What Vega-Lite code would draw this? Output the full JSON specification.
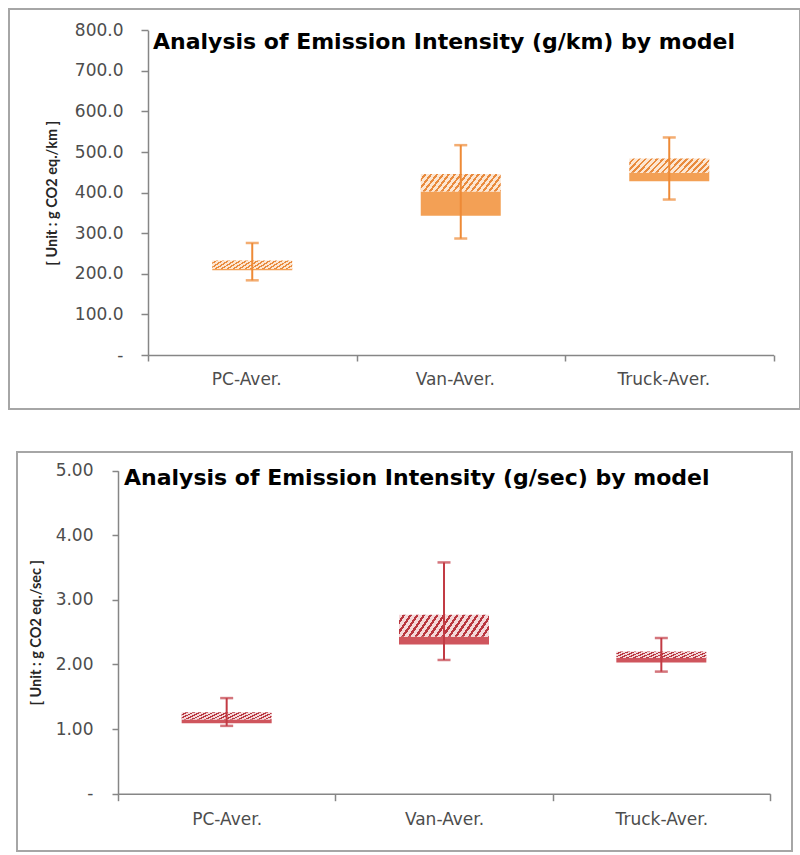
{
  "$schema": "https://vega.github.io/schema/vega-lite/v6.json",
  "background": "white",
  "padding": {"left": 8, "top": 8, "right": 0, "bottom": 0},
  "spacing": 41,
  "center": true,
  "config": {
    "view": {"stroke": "#A6A6A6", "strokeWidth": 2},
    "font": "DejaVu Sans",
    "axis": {"grid": false, "domainColor": "#868686", "tickColor": "#868686", "domainWidth": 1.5, "tickWidth": 1.5, "labelColor": "#4D4D4D", "titleColor": "#262626"}
  },
  "datasets": {
    "km": [
      {"model": "PC-Aver.", "min": 184, "q1": 209, "med": 212, "q3": 233, "max": 276},
      {"model": "Van-Aver.", "min": 287, "q1": 343, "med": 403, "q3": 446, "max": 517},
      {"model": "Truck-Aver.", "min": 383, "q1": 428, "med": 449, "q3": 484, "max": 536}
    ],
    "sec": [
      {"model": "PC-Aver.", "min": 1.05, "q1": 1.09, "med": 1.15, "q3": 1.26, "max": 1.48},
      {"model": "Van-Aver.", "min": 2.07, "q1": 2.31, "med": 2.43, "q3": 2.77, "max": 3.58},
      {"model": "Truck-Aver.", "min": 1.89, "q1": 2.03, "med": 2.10, "q3": 2.20, "max": 2.41}
    ]
  },
  "vconcat": [
    {
      "width": 791,
      "height": 400,
      "data": {"name": "km"},
      "title": {"text": "Analysis of Emission Intensity (g/km) by model", "anchor": "start", "frame": "group", "baseline": "top", "offset": 0, "dx": 144, "dy": 45, "fontSize": 22, "font": "DejaVu Sans", "fontWeight": "bold", "color": "#000000"},
      "encoding": {
        "x": {"field": "model", "type": "nominal", "sort": null,
          "scale": {"range": [139, 764.5], "paddingInner": 0, "paddingOuter": 0},
          "axis": {"title": null, "labelAngle": 0, "offset": -54, "tickBand": "extent", "tickSize": 6, "labelPadding": 10, "labelFontSize": 17, "labelOffset": -6}}
      },
      "layer": [
        {
          "mark": {"type": "bar", "width": 80, "color": "#F3A055"},
          "encoding": {
            "y": {"field": "q1", "type": "quantitative", "title": "[ Unit : g CO2 eq./km ]",
              "scale": {"domain": [0, 800], "range": [346, 21.3], "nice": false, "zero": true},
              "axis": {"values": [0, 100, 200, 300, 400, 500, 600, 700, 800], "labelExpr": "datum.value == 0 ? '-' : format(datum.value, '.1f')", "offset": -139, "tickSize": 7, "labelPadding": 18, "labelFontSize": 17, "titleFont": "Lato", "titleFontSize": 14.5, "titleFontWeight": "bold", "titlePadding": 15}},
            "y2": {"field": "med"}
          }
        },
        {
          "mark": {"type": "bar", "width": 80, "color": {"gradient": "linear", "x1": 0, "y1": 0, "x2": 1.2, "y2": 0.2, "stops": [
            {"offset": 0, "color": "#FCE6D2"}, {"offset": 0.035, "color": "#FCE6D2"}, {"offset": 0.035, "color": "#E98B3E"}, {"offset": 0.06, "color": "#E98B3E"},
            {"offset": 0.06, "color": "#FCE6D2"}, {"offset": 0.095, "color": "#FCE6D2"}, {"offset": 0.095, "color": "#E98B3E"}, {"offset": 0.12, "color": "#E98B3E"},
            {"offset": 0.12, "color": "#FCE6D2"}, {"offset": 0.155, "color": "#FCE6D2"}, {"offset": 0.155, "color": "#E98B3E"}, {"offset": 0.18, "color": "#E98B3E"},
            {"offset": 0.18, "color": "#FCE6D2"}, {"offset": 0.215, "color": "#FCE6D2"}, {"offset": 0.215, "color": "#E98B3E"}, {"offset": 0.24, "color": "#E98B3E"},
            {"offset": 0.24, "color": "#FCE6D2"}, {"offset": 0.275, "color": "#FCE6D2"}, {"offset": 0.275, "color": "#E98B3E"}, {"offset": 0.30, "color": "#E98B3E"},
            {"offset": 0.30, "color": "#FCE6D2"}, {"offset": 0.335, "color": "#FCE6D2"}, {"offset": 0.335, "color": "#E98B3E"}, {"offset": 0.36, "color": "#E98B3E"},
            {"offset": 0.36, "color": "#FCE6D2"}, {"offset": 0.395, "color": "#FCE6D2"}, {"offset": 0.395, "color": "#E98B3E"}, {"offset": 0.42, "color": "#E98B3E"},
            {"offset": 0.42, "color": "#FCE6D2"}, {"offset": 0.455, "color": "#FCE6D2"}, {"offset": 0.455, "color": "#E98B3E"}, {"offset": 0.48, "color": "#E98B3E"},
            {"offset": 0.48, "color": "#FCE6D2"}, {"offset": 0.515, "color": "#FCE6D2"}, {"offset": 0.515, "color": "#E98B3E"}, {"offset": 0.54, "color": "#E98B3E"},
            {"offset": 0.54, "color": "#FCE6D2"}, {"offset": 0.575, "color": "#FCE6D2"}, {"offset": 0.575, "color": "#E98B3E"}, {"offset": 0.60, "color": "#E98B3E"},
            {"offset": 0.60, "color": "#FCE6D2"}, {"offset": 0.635, "color": "#FCE6D2"}, {"offset": 0.635, "color": "#E98B3E"}, {"offset": 0.66, "color": "#E98B3E"},
            {"offset": 0.66, "color": "#FCE6D2"}, {"offset": 0.695, "color": "#FCE6D2"}, {"offset": 0.695, "color": "#E98B3E"}, {"offset": 0.72, "color": "#E98B3E"},
            {"offset": 0.72, "color": "#FCE6D2"}, {"offset": 0.755, "color": "#FCE6D2"}, {"offset": 0.755, "color": "#E98B3E"}, {"offset": 0.78, "color": "#E98B3E"},
            {"offset": 0.78, "color": "#FCE6D2"}, {"offset": 0.815, "color": "#FCE6D2"}, {"offset": 0.815, "color": "#E98B3E"}, {"offset": 0.84, "color": "#E98B3E"},
            {"offset": 0.84, "color": "#FCE6D2"}, {"offset": 0.875, "color": "#FCE6D2"}, {"offset": 0.875, "color": "#E98B3E"}, {"offset": 0.90, "color": "#E98B3E"},
            {"offset": 0.90, "color": "#FCE6D2"}, {"offset": 0.935, "color": "#FCE6D2"}, {"offset": 0.935, "color": "#E98B3E"}, {"offset": 0.96, "color": "#E98B3E"},
            {"offset": 0.96, "color": "#FCE6D2"}, {"offset": 1, "color": "#FCE6D2"}
          ]}},
          "encoding": {
            "y": {"field": "med", "type": "quantitative", "title": "[ Unit : g CO2 eq./km ]"},
            "y2": {"field": "q3"}
          }
        },
        {
          "mark": {"type": "rule", "color": "#EE8A36", "strokeWidth": 2},
          "encoding": {
            "y": {"field": "min", "type": "quantitative", "title": "[ Unit : g CO2 eq./km ]"},
            "y2": {"field": "max"}
          }
        },
        {
          "mark": {"type": "tick", "color": "#EE8A36", "size": 13, "thickness": 2.5},
          "encoding": {"y": {"field": "min", "type": "quantitative", "title": "[ Unit : g CO2 eq./km ]"}}
        },
        {
          "mark": {"type": "tick", "color": "#EE8A36", "size": 13, "thickness": 2.5},
          "encoding": {"y": {"field": "max", "type": "quantitative", "title": "[ Unit : g CO2 eq./km ]"}}
        }
      ]
    },
    {
      "width": 775,
      "height": 399,
      "data": {"name": "sec"},
      "title": {"text": "Analysis of Emission Intensity (g/sec) by model", "anchor": "start", "frame": "group", "baseline": "top", "offset": 0, "dx": 107, "dy": 38, "fontSize": 22, "font": "DejaVu Sans", "fontWeight": "bold", "color": "#000000"},
      "encoding": {
        "x": {"field": "model", "type": "nominal", "sort": null,
          "scale": {"range": [101, 753], "paddingInner": 0, "paddingOuter": 0},
          "axis": {"title": null, "labelAngle": 0, "offset": -57.3, "tickBand": "extent", "tickSize": 7, "labelPadding": 11, "labelFontSize": 17}}
      },
      "layer": [
        {
          "mark": {"type": "bar", "width": 90, "color": "#CF555D"},
          "encoding": {
            "y": {"field": "q1", "type": "quantitative", "title": "[ Unit : g CO2 eq./sec ]",
              "scale": {"domain": [0, 5], "range": [341.7, 18.7], "nice": false, "zero": true},
              "axis": {"values": [0, 1, 2, 3, 4, 5], "labelExpr": "datum.value == 0 ? '-' : format(datum.value, '.2f')", "offset": -101, "tickSize": 6, "labelPadding": 19, "labelFontSize": 17, "titleFont": "Lato", "titleFontSize": 14.5, "titleFontWeight": "bold", "titlePadding": 12}},
            "y2": {"field": "med"}
          }
        },
        {
          "mark": {"type": "bar", "width": 90, "color": {"gradient": "linear", "x1": 0, "y1": 0, "x2": 1.2, "y2": 0.2, "stops": [
            {"offset": 0, "color": "#F4D8DA"}, {"offset": 0.035, "color": "#F4D8DA"}, {"offset": 0.035, "color": "#B9363F"}, {"offset": 0.06, "color": "#B9363F"},
            {"offset": 0.06, "color": "#F4D8DA"}, {"offset": 0.095, "color": "#F4D8DA"}, {"offset": 0.095, "color": "#B9363F"}, {"offset": 0.12, "color": "#B9363F"},
            {"offset": 0.12, "color": "#F4D8DA"}, {"offset": 0.155, "color": "#F4D8DA"}, {"offset": 0.155, "color": "#B9363F"}, {"offset": 0.18, "color": "#B9363F"},
            {"offset": 0.18, "color": "#F4D8DA"}, {"offset": 0.215, "color": "#F4D8DA"}, {"offset": 0.215, "color": "#B9363F"}, {"offset": 0.24, "color": "#B9363F"},
            {"offset": 0.24, "color": "#F4D8DA"}, {"offset": 0.275, "color": "#F4D8DA"}, {"offset": 0.275, "color": "#B9363F"}, {"offset": 0.30, "color": "#B9363F"},
            {"offset": 0.30, "color": "#F4D8DA"}, {"offset": 0.335, "color": "#F4D8DA"}, {"offset": 0.335, "color": "#B9363F"}, {"offset": 0.36, "color": "#B9363F"},
            {"offset": 0.36, "color": "#F4D8DA"}, {"offset": 0.395, "color": "#F4D8DA"}, {"offset": 0.395, "color": "#B9363F"}, {"offset": 0.42, "color": "#B9363F"},
            {"offset": 0.42, "color": "#F4D8DA"}, {"offset": 0.455, "color": "#F4D8DA"}, {"offset": 0.455, "color": "#B9363F"}, {"offset": 0.48, "color": "#B9363F"},
            {"offset": 0.48, "color": "#F4D8DA"}, {"offset": 0.515, "color": "#F4D8DA"}, {"offset": 0.515, "color": "#B9363F"}, {"offset": 0.54, "color": "#B9363F"},
            {"offset": 0.54, "color": "#F4D8DA"}, {"offset": 0.575, "color": "#F4D8DA"}, {"offset": 0.575, "color": "#B9363F"}, {"offset": 0.60, "color": "#B9363F"},
            {"offset": 0.60, "color": "#F4D8DA"}, {"offset": 0.635, "color": "#F4D8DA"}, {"offset": 0.635, "color": "#B9363F"}, {"offset": 0.66, "color": "#B9363F"},
            {"offset": 0.66, "color": "#F4D8DA"}, {"offset": 0.695, "color": "#F4D8DA"}, {"offset": 0.695, "color": "#B9363F"}, {"offset": 0.72, "color": "#B9363F"},
            {"offset": 0.72, "color": "#F4D8DA"}, {"offset": 0.755, "color": "#F4D8DA"}, {"offset": 0.755, "color": "#B9363F"}, {"offset": 0.78, "color": "#B9363F"},
            {"offset": 0.78, "color": "#F4D8DA"}, {"offset": 0.815, "color": "#F4D8DA"}, {"offset": 0.815, "color": "#B9363F"}, {"offset": 0.84, "color": "#B9363F"},
            {"offset": 0.84, "color": "#F4D8DA"}, {"offset": 0.875, "color": "#F4D8DA"}, {"offset": 0.875, "color": "#B9363F"}, {"offset": 0.90, "color": "#B9363F"},
            {"offset": 0.90, "color": "#F4D8DA"}, {"offset": 0.935, "color": "#F4D8DA"}, {"offset": 0.935, "color": "#B9363F"}, {"offset": 0.96, "color": "#B9363F"},
            {"offset": 0.96, "color": "#F4D8DA"}, {"offset": 1, "color": "#F4D8DA"}
          ]}},
          "encoding": {
            "y": {"field": "med", "type": "quantitative", "title": "[ Unit : g CO2 eq./sec ]"},
            "y2": {"field": "q3"}
          }
        },
        {
          "mark": {"type": "rule", "color": "#C23B44", "strokeWidth": 2},
          "encoding": {
            "y": {"field": "min", "type": "quantitative", "title": "[ Unit : g CO2 eq./sec ]"},
            "y2": {"field": "max"}
          }
        },
        {
          "mark": {"type": "tick", "color": "#C23B44", "size": 13, "thickness": 2.5},
          "encoding": {"y": {"field": "min", "type": "quantitative", "title": "[ Unit : g CO2 eq./sec ]"}}
        },
        {
          "mark": {"type": "tick", "color": "#C23B44", "size": 13, "thickness": 2.5},
          "encoding": {"y": {"field": "max", "type": "quantitative", "title": "[ Unit : g CO2 eq./sec ]"}}
        }
      ]
    }
  ]
}
